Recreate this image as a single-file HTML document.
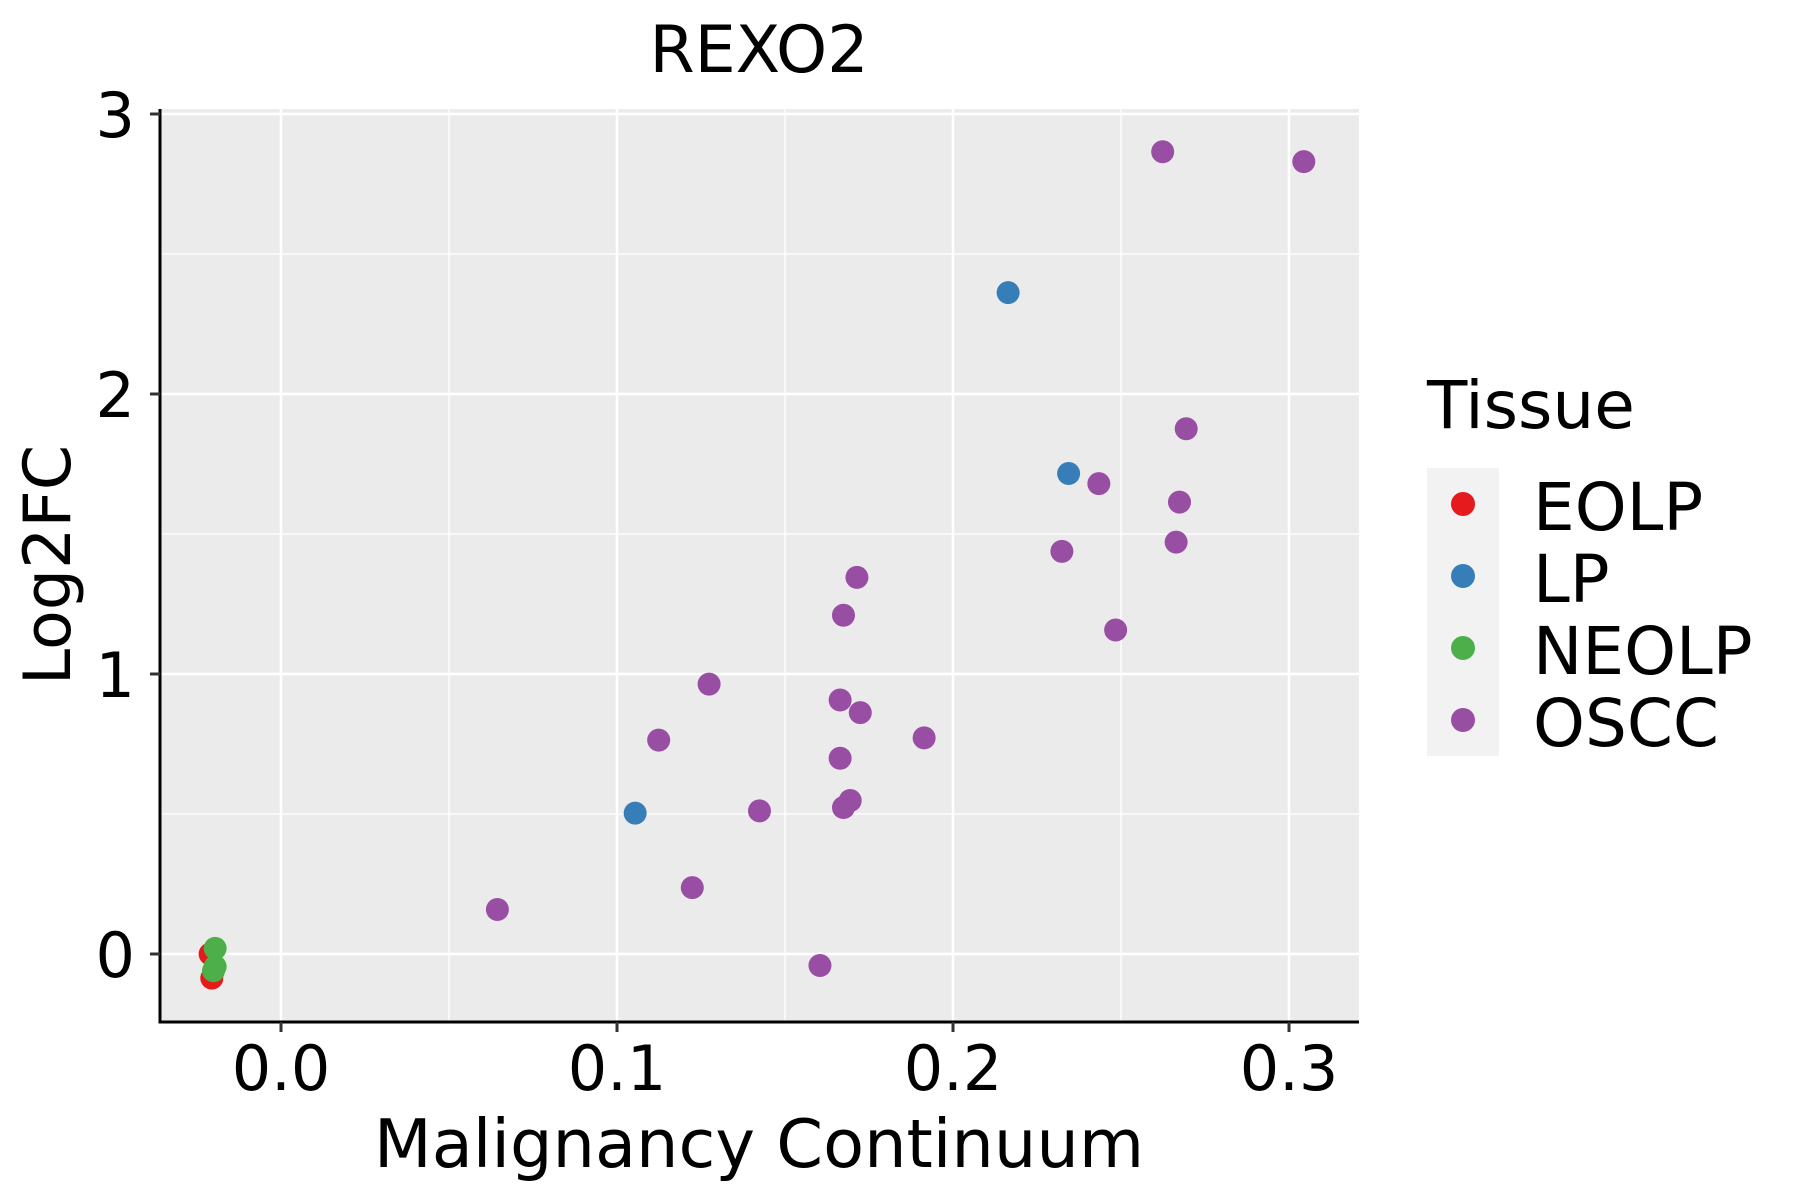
<!DOCTYPE html>
<html><head><meta charset="utf-8"><style>
body{margin:0;background:#fff}
svg{display:block;font-family:"DejaVu Sans","Liberation Sans",sans-serif}
</style></head><body>
<svg id="chart" width="1800" height="1200" viewBox="0 0 1800 1200">
<rect x="160" y="109" width="1199" height="913" fill="#ebebeb"/>
<g id="grid"></g>
<g id="points"></g>
<g id="axes"></g>
<text x="759" y="72" font-size="65" text-anchor="middle">REXO2</text>
<text x="759" y="1167" font-size="67" text-anchor="middle">Malignancy Continuum</text>
<text transform="translate(70,565) rotate(-90)" font-size="65" text-anchor="middle">Log2FC</text>
<g id="legend">
<text x="1427" y="428" font-size="66">Tissue</text>
<rect x="1427" y="468" width="72" height="288" fill="#f2f2f2"/>
</g>
</svg>
<script>
const xTicks=[0.0,0.1,0.2,0.3];
const xTickLabels=["0.0","0.1","0.2","0.3"];
const yTicks=[0,1,2,3];
const yTickLabels=["0","1","2","3"];
const groups=["EOLP","LP","NEOLP","OSCC"];
const groupColors=["#e41a1c","#377eb8","#4daf4a","#984ea3"];
const eolpX=[-0.0205,-0.020];
const eolpY=[0.0,-0.086];
const lpX=[0.217,0.235,0.106];
const lpY=[2.362,1.716,0.503];
const neolpX=[-0.019,-0.019,-0.0195];
const neolpY=[0.02,-0.045,-0.06];
const osccX=[0.263,0.305,0.270,0.244,0.268,0.267,0.233,0.249,0.172,0.168,0.128,0.167,0.173,0.113,0.192,0.167,0.170,0.168,0.143,0.123,0.065,0.161];
const osccY=[2.865,2.83,1.876,1.68,1.614,1.471,1.438,1.157,1.345,1.21,0.964,0.907,0.862,0.764,0.772,0.699,0.548,0.523,0.511,0.237,0.159,-0.041];

const NS="http://www.w3.org/2000/svg";
const X=v=>281+v*3360;
const PX=v=>X(v)-2;
const Y=v=>954-v*280;
const L=160,R=1359,T=109,B=1022;
function mk(tag,attrs,parent){const e=document.createElementNS(NS,tag);for(const k in attrs)e.setAttribute(k,attrs[k]);parent.appendChild(e);return e;}
const grid=document.getElementById('grid');
for(let i=0;i<xTicks.length;i++){
  const m=mk('line',{x1:X(xTicks[i]-0.05),x2:X(xTicks[i]-0.05),y1:T,y2:B,stroke:'#fff','stroke-width':1.3},grid);
  
  
  const g=mk('line',{x1:X(xTicks[i]),x2:X(xTicks[i]),y1:T,y2:B,stroke:'#fff','stroke-width':2.6},grid);
  
  
}
for(let i=0;i<yTicks.length;i++){
  if(i>0){const m=mk('line',{x1:L,x2:R,y1:Y(yTicks[i]-0.5),y2:Y(yTicks[i]-0.5),stroke:'#fff','stroke-width':1.3},grid);
  
  }
  const g=mk('line',{x1:L,x2:R,y1:Y(yTicks[i]),y2:Y(yTicks[i]),stroke:'#fff','stroke-width':2.6},grid);
  
  
}
const pts=document.getElementById('points');
const series=[[eolpX,eolpY],[lpX,lpY],[neolpX,neolpY],[osccX,osccY]];
const order=[0,3,1,2];
order.forEach(s=>{
  const [xs,ys]=series[s];
  for(let i=0;i<xs.length;i++){
    const c=mk('circle',{cx:PX(xs[i]),cy:Y(ys[i]),r:11.5,fill:groupColors[s]},pts);
    
    
  }
});
const ax=document.getElementById('axes');
const yl=mk('line',{x1:L,x2:L,y1:T,y2:B+1.5,stroke:'#000','stroke-width':3},ax);


const xl=mk('line',{x1:L-1.5,x2:R,y1:B,y2:B,stroke:'#000','stroke-width':3},ax);


for(let i=0;i<xTicks.length;i++){
  const t=mk('line',{x1:X(xTicks[i]),x2:X(xTicks[i]),y1:B,y2:B+10,stroke:'#333','stroke-width':3},ax);
  
  
  const lb=mk('text',{x:X(xTicks[i]),y:1090,'font-size':62,'text-anchor':'middle'},ax);
  lb.textContent=xTickLabels[i];
  
  
}
for(let i=0;i<yTicks.length;i++){
  const t=mk('line',{x1:L-10,x2:L,y1:Y(yTicks[i]),y2:Y(yTicks[i]),stroke:'#333','stroke-width':3},ax);
  
  
  const lb=mk('text',{x:135,y:Y(yTicks[i])+23,'font-size':62,'text-anchor':'end'},ax);
  lb.textContent=yTickLabels[i];
  
  
}
const leg=document.getElementById('legend');
for(let i=0;i<groups.length;i++){
  const cy=504+i*72;
  const c=mk('circle',{cx:1463,cy:cy,r:12,fill:groupColors[i]},leg);
  
  
  const t=mk('text',{x:1533,y:cy+26,'font-size':66},leg);
  t.textContent=groups[i];
  
  
}
</script>
</body></html>
